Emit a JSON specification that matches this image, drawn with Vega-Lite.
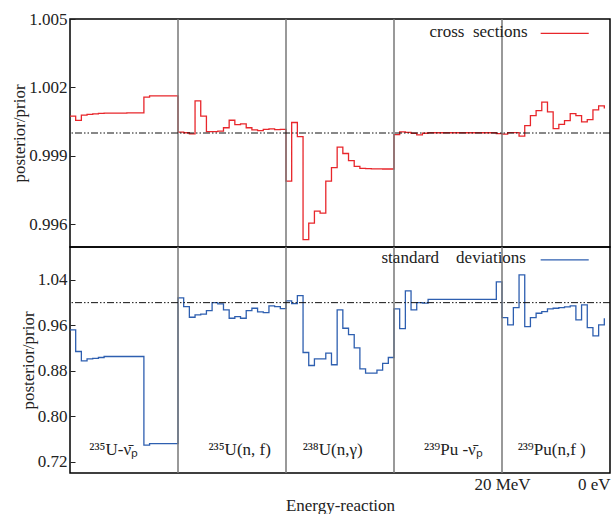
{
  "$schema": "https://vega.github.io/schema/vega-lite/v6.json",
  "autosize": {"type": "pad"},
  "padding": {"left": 10, "top": 9, "right": 0, "bottom": 0},
  "background": "white",
  "spacing": 0,
  "bounds": "flush",
  "config": {
    "view": {"stroke": "#000", "strokeWidth": 1.5},
    "font": "Liberation Serif",
    "axis": {
      "labelFont": "Liberation Serif", "titleFont": "Liberation Serif",
      "labelFontSize": 17, "titleFontSize": 17, "labelColor": "#222", "titleColor": "#222",
      "titleFontWeight": "normal", "grid": false, "domain": false, "tickColor": "#222"
    },
    "text": {"font": "Liberation Serif", "fontSize": 17, "color": "#222"}
  },
  "datasets": {
    "steps": [
      {"x": 0, "cs": 1.00074, "sd": 0.9521},
      {"x": 0.0526, "cs": 1.00055, "sd": 0.914},
      {"x": 0.1053, "cs": 1.00078, "sd": 0.8976},
      {"x": 0.1579, "cs": 1.00082, "sd": 0.9011},
      {"x": 0.2105, "cs": 1.00084, "sd": 0.9017},
      {"x": 0.2632, "cs": 1.00086, "sd": 0.9034},
      {"x": 0.3158, "cs": 1.00087, "sd": 0.9052},
      {"x": 0.3684, "cs": 1.00087, "sd": 0.9052},
      {"x": 0.4211, "cs": 1.00087, "sd": 0.9052},
      {"x": 0.4737, "cs": 1.00087, "sd": 0.9052},
      {"x": 0.5263, "cs": 1.00088, "sd": 0.9052},
      {"x": 0.5789, "cs": 1.00088, "sd": 0.9052},
      {"x": 0.6316, "cs": 1.00088, "sd": 0.9052},
      {"x": 0.6842, "cs": 1.00157, "sd": 0.7492},
      {"x": 0.7368, "cs": 1.00163, "sd": 0.7517},
      {"x": 0.7895, "cs": 1.00163, "sd": 0.7517},
      {"x": 0.8421, "cs": 1.00163, "sd": 0.7517},
      {"x": 0.8947, "cs": 1.00163, "sd": 0.7517},
      {"x": 0.9474, "cs": 1.00163, "sd": 0.7517},
      {"x": 1, "cs": 1.00004, "sd": 1.0084},
      {"x": 1.0526, "cs": 1.00001, "sd": 0.9931},
      {"x": 1.1053, "cs": 0.99996, "sd": 0.9743},
      {"x": 1.1579, "cs": 1.00141, "sd": 0.9785},
      {"x": 1.2105, "cs": 1.00074, "sd": 0.9797},
      {"x": 1.2632, "cs": 1.00006, "sd": 0.986},
      {"x": 1.3158, "cs": 1.00006, "sd": 1.0001},
      {"x": 1.3684, "cs": 1.00008, "sd": 0.9978},
      {"x": 1.4211, "cs": 1.00023, "sd": 0.9873},
      {"x": 1.4737, "cs": 1.00056, "sd": 0.9725},
      {"x": 1.5263, "cs": 1.00037, "sd": 0.9755},
      {"x": 1.5789, "cs": 1.0004, "sd": 0.9725},
      {"x": 1.6316, "cs": 1.00023, "sd": 0.986},
      {"x": 1.6842, "cs": 1.00014, "sd": 0.9901},
      {"x": 1.7368, "cs": 1.0001, "sd": 0.9837},
      {"x": 1.7895, "cs": 1.00016, "sd": 0.9826},
      {"x": 1.8421, "cs": 1.00018, "sd": 0.9943},
      {"x": 1.8947, "cs": 1.00015, "sd": 0.9931},
      {"x": 1.9474, "cs": 1.00016, "sd": 0.9895},
      {"x": 2, "cs": 0.99789, "sd": 1.0031},
      {"x": 2.0526, "cs": 1.00046, "sd": 0.9983},
      {"x": 2.1053, "cs": 0.99984, "sd": 1.0124},
      {"x": 2.1579, "cs": 0.99532, "sd": 0.9122},
      {"x": 2.2105, "cs": 0.99605, "sd": 0.8893},
      {"x": 2.2632, "cs": 0.99657, "sd": 0.9011},
      {"x": 2.3158, "cs": 0.99649, "sd": 0.9011},
      {"x": 2.3684, "cs": 0.99789, "sd": 0.911},
      {"x": 2.4211, "cs": 0.99848, "sd": 0.8906},
      {"x": 2.4737, "cs": 0.99938, "sd": 0.9873},
      {"x": 2.5263, "cs": 0.9991, "sd": 0.9549},
      {"x": 2.5789, "cs": 0.99879, "sd": 0.9438},
      {"x": 2.6316, "cs": 0.99854, "sd": 0.9205},
      {"x": 2.6842, "cs": 0.99845, "sd": 0.8835},
      {"x": 2.7368, "cs": 0.99844, "sd": 0.8758},
      {"x": 2.7895, "cs": 0.99843, "sd": 0.8758},
      {"x": 2.8421, "cs": 0.99843, "sd": 0.8811},
      {"x": 2.8947, "cs": 0.99842, "sd": 0.8929},
      {"x": 2.9474, "cs": 0.99842, "sd": 0.9034},
      {"x": 3, "cs": 0.99993, "sd": 0.989},
      {"x": 3.0526, "cs": 1.00005, "sd": 0.9544},
      {"x": 3.1053, "cs": 1.00003, "sd": 1.0206},
      {"x": 3.1579, "cs": 0.99999, "sd": 0.9873},
      {"x": 3.2105, "cs": 0.99992, "sd": 1.0001},
      {"x": 3.2632, "cs": 0.99999, "sd": 0.999},
      {"x": 3.3158, "cs": 1.00001, "sd": 1.0059},
      {"x": 3.3684, "cs": 1.00001, "sd": 1.0059},
      {"x": 3.4211, "cs": 1.00001, "sd": 1.0059},
      {"x": 3.4737, "cs": 1.00001, "sd": 1.0059},
      {"x": 3.5263, "cs": 1.00001, "sd": 1.0059},
      {"x": 3.5789, "cs": 1.00001, "sd": 1.0059},
      {"x": 3.6316, "cs": 1.00001, "sd": 1.0059},
      {"x": 3.6842, "cs": 1.00001, "sd": 1.0059},
      {"x": 3.7368, "cs": 1.00001, "sd": 1.0059},
      {"x": 3.7895, "cs": 1.00001, "sd": 1.0059},
      {"x": 3.8421, "cs": 1.00001, "sd": 1.0059},
      {"x": 3.8947, "cs": 1.00001, "sd": 1.0059},
      {"x": 3.9474, "cs": 0.99997, "sd": 1.0365},
      {"x": 4, "cs": 0.99995, "sd": 0.9737},
      {"x": 4.0526, "cs": 1.00002, "sd": 0.9609},
      {"x": 4.1053, "cs": 1.00002, "sd": 0.9913},
      {"x": 4.1579, "cs": 0.99986, "sd": 1.0488},
      {"x": 4.2105, "cs": 1.00032, "sd": 0.9579},
      {"x": 4.2632, "cs": 1.00076, "sd": 0.9737},
      {"x": 4.3158, "cs": 1.00098, "sd": 0.9813},
      {"x": 4.3684, "cs": 1.00135, "sd": 0.9843},
      {"x": 4.4211, "cs": 1.00093, "sd": 0.989},
      {"x": 4.4737, "cs": 1.00019, "sd": 0.9901},
      {"x": 4.5263, "cs": 1.00038, "sd": 0.9913},
      {"x": 4.5789, "cs": 1.00054, "sd": 0.9925},
      {"x": 4.6316, "cs": 1.00085, "sd": 0.9942},
      {"x": 4.6842, "cs": 1.00076, "sd": 0.9697},
      {"x": 4.7368, "cs": 1.00049, "sd": 0.996},
      {"x": 4.7895, "cs": 1.00059, "sd": 0.9561},
      {"x": 4.8421, "cs": 1.00101, "sd": 0.9416},
      {"x": 4.8947, "cs": 1.00119, "sd": 0.9609},
      {"x": 4.9474, "cs": 1.00107, "sd": 0.9725}
    ],
    "seps": [{"x": 1}, {"x": 2}, {"x": 3}, {"x": 4}],
    "ref": [{"y": 1}],
    "legTop": [{"x": 4.358, "x2": 4.803, "y": 1.00437, "tx": 4.238, "ty": 1.00422, "label": "cross\u00a0\u00a0sections"}],
    "legBot": [{"x": 4.358, "x2": 4.803, "y": 1.0752, "tx": 4.222, "ty": 1.0692, "label": "standard\u00a0\u00a0\u00a0\u00a0deviations"}],
    "labels": [
      {"x": 0.405, "y": 0.731, "text": "²³⁵U-ν̄ₚ"},
      {"x": 1.571, "y": 0.731, "text": "²³⁵U(n, f)"},
      {"x": 2.432, "y": 0.731, "text": "²³⁸U(n,γ)"},
      {"x": 3.55, "y": 0.731, "text": "²³⁹Pu -ν̄ₚ"},
      {"x": 4.46, "y": 0.731, "text": "²³⁹Pu(n,f )"}
    ]
  },
  "vconcat": [
    {
      "width": 540,
      "height": 228,
      "layer": [
        {
          "data": {"name": "steps"},
          "mark": {"type": "line", "interpolate": "step-after", "color": "#e8262b", "strokeWidth": 1.3},
          "encoding": {
            "x": {"field": "x", "type": "quantitative", "scale": {"domain": [0, 5]}, "axis": null},
            "y": {"field": "cs", "type": "quantitative", "scale": {"domain": [0.995, 1.005], "zero": false, "nice": false},
              "axis": {"title": "posterior/prior", "values": [0.996, 0.999, 1.002, 1.005], "format": ".3f", "tickSize": -5, "labelPadding": 8, "titlePadding": 0}}
          }
        },
        {
          "data": {"name": "seps"},
          "mark": {"type": "rule", "color": "#777", "strokeWidth": 1.5},
          "encoding": {"x": {"field": "x", "type": "quantitative"}}
        },
        {
          "data": {"name": "ref"},
          "mark": {"type": "rule", "color": "#111", "strokeWidth": 1, "strokeDash": [7, 2, 1.5, 2, 1.5, 2]},
          "encoding": {"y": {"field": "y", "type": "quantitative"}}
        },
        {
          "data": {"name": "legTop"},
          "mark": {"type": "rule", "color": "#e8262b", "strokeWidth": 1.3},
          "encoding": {
            "x": {"field": "x", "type": "quantitative"},
            "x2": {"field": "x2"},
            "y": {"field": "y", "type": "quantitative"}
          }
        },
        {
          "data": {"name": "legTop"},
          "mark": {"type": "text", "align": "right", "baseline": "alphabetic", "fontSize": 17},
          "encoding": {
            "x": {"field": "tx", "type": "quantitative"},
            "y": {"field": "ty", "type": "quantitative"},
            "text": {"field": "label"}
          }
        }
      ]
    },
    {
      "width": 540,
      "height": 226,
      "layer": [
        {
          "data": {"name": "steps"},
          "mark": {"type": "line", "interpolate": "step-after", "color": "#2e5fb0", "strokeWidth": 1.3},
          "encoding": {
            "x": {"field": "x", "type": "quantitative", "scale": {"domain": [0, 5]},
              "axis": {"title": "Energy-reaction", "values": [4, 5], "labelExpr": "datum.value == 4 ? '20 MeV' : '0 eV'", "ticks": false, "labelPadding": 3, "titlePadding": 5}},
            "y": {"field": "sd", "type": "quantitative", "scale": {"domain": [0.7, 1.098], "zero": false, "nice": false},
              "axis": {"title": "posterior/prior", "values": [0.72, 0.8, 0.88, 0.96, 1.04], "format": ".2f", "tickSize": -5, "labelPadding": 8, "titlePadding": 0}}
          }
        },
        {
          "data": {"name": "seps"},
          "mark": {"type": "rule", "color": "#777", "strokeWidth": 1.5},
          "encoding": {"x": {"field": "x", "type": "quantitative"}}
        },
        {
          "data": {"name": "ref"},
          "mark": {"type": "rule", "color": "#111", "strokeWidth": 1, "strokeDash": [7, 2, 1.5, 2, 1.5, 2]},
          "encoding": {"y": {"field": "y", "type": "quantitative"}}
        },
        {
          "data": {"name": "legBot"},
          "mark": {"type": "rule", "color": "#2e5fb0", "strokeWidth": 1.3},
          "encoding": {
            "x": {"field": "x", "type": "quantitative"},
            "x2": {"field": "x2"},
            "y": {"field": "y", "type": "quantitative"}
          }
        },
        {
          "data": {"name": "legBot"},
          "mark": {"type": "text", "align": "right", "baseline": "alphabetic", "fontSize": 17},
          "encoding": {
            "x": {"field": "tx", "type": "quantitative"},
            "y": {"field": "ty", "type": "quantitative"},
            "text": {"field": "label"}
          }
        },
        {
          "data": {"name": "labels"},
          "mark": {"type": "text", "align": "center", "baseline": "alphabetic", "fontSize": 17},
          "encoding": {
            "x": {"field": "x", "type": "quantitative"},
            "y": {"field": "y", "type": "quantitative"},
            "text": {"field": "text"}
          }
        }
      ]
    }
  ]
}
